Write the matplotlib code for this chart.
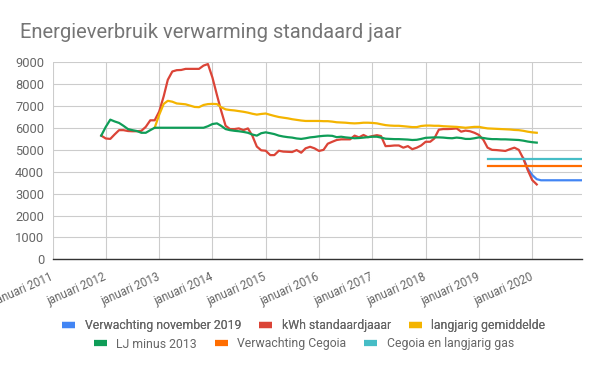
import pandas as pd
import matplotlib
matplotlib.use('Agg')
import matplotlib.pyplot as plt
from matplotlib.lines import Line2D
from matplotlib.transforms import ScaledTranslation

plt.rcParams['font.family'] = ['Roboto', 'DejaVu Sans']

title = 'Energieverbruik verwarming standaard jaar'
tick_years = list(range(2011, 2021))
tick_labels = ['januari %d' % y for y in tick_years]

# monthly values
kwh_start = '2011-12-01'
kwh_standaard = [
    5650,
    5520, 5500, 5700, 5900, 5900, 5860, 5850, 5850, 5870, 6050, 6350, 6350,
    6750, 7450, 8200, 8580, 8640, 8650, 8700, 8700, 8700, 8700, 8850, 8920,
    8300, 7500, 6800, 6100, 5950, 5950, 5980, 5900, 5980, 5650, 5150, 4980,
    4960, 4760, 4760, 4960, 4920, 4910, 4900, 4990, 4870, 5070, 5140, 5070,
    4950, 5000, 5280, 5370, 5450, 5480, 5480, 5480, 5650, 5570, 5680, 5580,
    5630, 5670, 5630, 5170, 5180, 5200, 5200, 5100, 5170, 5030, 5100, 5200,
    5370, 5370, 5520, 5920, 5950, 5950, 5960, 5980, 5830, 5880, 5850, 5780,
    5680, 5450, 5100, 5000, 4990, 4970, 4950, 5030, 5100, 5000, 4600, 4080,
    3620, 3420,
]

lj_min_2013_start = '2011-12-01'
lj_min_2013 = [
    5650,
    6050, 6380, 6300, 6230, 6100, 5950, 5900, 5860, 5780, 5780, 5900, 6010,
    6010, 6010, 6010, 6010, 6010, 6010, 6010, 6010, 6010, 6010, 6010, 6080,
    6180, 6210, 6100, 5950, 5900, 5870, 5850, 5820, 5780, 5700, 5650, 5760,
    5800, 5760, 5720, 5650, 5610, 5580, 5560, 5520, 5500, 5530, 5570, 5590,
    5620, 5640, 5650, 5640, 5580, 5600, 5570, 5550, 5530, 5540, 5560, 5580,
    5600, 5600, 5560, 5510, 5500, 5490, 5490, 5480, 5470, 5450, 5460, 5500,
    5550, 5560, 5570, 5570, 5560, 5540, 5530, 5560, 5540, 5500, 5500, 5530,
    5570, 5540, 5510, 5490, 5490, 5480, 5480, 5470, 5460, 5450, 5420, 5380,
    5350, 5330,
]

langjarig_start = '2012-12-01'
langjarig = [
    6010,
    6600, 7100, 7240, 7200, 7120, 7100, 7080, 7020, 6960, 6950, 7050, 7090,
    7100, 7090, 6950, 6850, 6820, 6800, 6770, 6740, 6700, 6650, 6610, 6640,
    6660, 6600, 6550, 6500, 6470, 6440, 6400, 6370, 6340, 6320, 6320, 6320,
    6320, 6310, 6310, 6290, 6260, 6250, 6240, 6220, 6210, 6220, 6240, 6240,
    6230, 6210, 6170, 6130, 6110, 6100, 6100, 6080, 6060, 6040, 6040, 6090,
    6110, 6110, 6100, 6100, 6080, 6070, 6060, 6050, 6030, 6010, 6030, 6050,
    6050, 6010, 5980, 5970, 5960, 5950, 5940, 5930, 5910, 5900, 5870, 5830,
    5800, 5780,
]

verw_nov_start = '2019-11-01'
verw_nov = [4620, 4150, 3850, 3660, 3610, 3610, 3610, 3610, 3610, 3610,
            3610, 3610, 3610, 3610]

cegoia_months = ['2019-03-01', '2020-12-01']
verw_cegoia = [4270, 4270]
cegoia_gas = [4600, 4600]


def months(start, n):
    return pd.date_range(start, periods=n, freq='MS')


fig = plt.figure(figsize=(6.0, 3.71), dpi=100)
ax = fig.add_axes([52.5 / 600, (371 - 259.3) / 371, (581.7 - 52.5) / 600, (259.3 - 62.3) / 371])

c_blue, c_red, c_yellow = '#4285F4', '#DB4437', '#F4B400'
c_green, c_orange, c_teal = '#0F9D58', '#FF6D00', '#46BDC6'
lw = 1.6

ax.plot(months(verw_nov_start, len(verw_nov)), verw_nov, color=c_blue, lw=lw)
ax.plot(months(kwh_start, len(kwh_standaard)), kwh_standaard, color=c_red, lw=lw)
ax.plot(months(langjarig_start, len(langjarig)), langjarig, color=c_yellow, lw=lw)
ax.plot(months(lj_min_2013_start, len(lj_min_2013)), lj_min_2013, color=c_green, lw=lw)
ax.plot(pd.to_datetime(cegoia_months), verw_cegoia, color=c_orange, lw=lw)
ax.plot(pd.to_datetime(cegoia_months), cegoia_gas, color=c_teal, lw=lw)

ax.set_xlim(pd.Timestamp('2011-01-04'), pd.Timestamp('2020-12-05'))
ax.set_ylim(0, 9000)
ax.set_yticks(range(0, 9001, 1000))
ax.set_xticks([pd.Timestamp('%d-01-01' % y) for y in tick_years])

txt = '#666666'
ax.set_xticklabels(tick_labels, rotation=24, ha='right', va='center',
                   rotation_mode='anchor', fontsize=8.3, color=txt)
for lab in ax.get_xticklabels():
    lab.set_transform(lab.get_transform() + ScaledTranslation(0.075, 0, fig.dpi_scale_trans))
ax.tick_params(axis='x', length=0, pad=12)
ax.tick_params(axis='y', length=0, pad=6, labelsize=9.3, labelcolor=txt)

ax.grid(True, color='#cccccc', lw=0.8)
ax.set_axisbelow(True)
for s in ['left', 'right', 'top']:
    ax.spines[s].set_visible(False)
ax.spines['bottom'].set_color('#333333')
ax.spines['bottom'].set_linewidth(1.0)
ax.spines['bottom'].set_zorder(3)

fig.text(20 / 600, (371 - 33) / 371, title, fontsize=14.5, color='#757575', va='center')


def handle(c):
    return Line2D([], [], color=c, lw=4.5, solid_capstyle='butt')


legend_kw = dict(ncol=3, frameon=False, fontsize=8.8, labelcolor=txt,
                 handlelength=1.05, handletextpad=0.8, columnspacing=1.45,
                 loc='center')
leg1 = fig.legend([handle(c_blue), handle(c_red), handle(c_yellow)],
                  ['Verwachting november 2019', 'kWh standaardjaaar', 'langjarig gemiddelde'],
                  bbox_to_anchor=(304 / 600, (371 - 326) / 371), **legend_kw)
fig.legend([handle(c_green), handle(c_orange), handle(c_teal)],
           ['LJ minus 2013', 'Verwachting Cegoia', 'Cegoia en langjarig gas'],
           bbox_to_anchor=(304 / 600, (371 - 344) / 371), **legend_kw)
fig.add_artist(leg1)

fig.savefig('out.png', dpi=100)
